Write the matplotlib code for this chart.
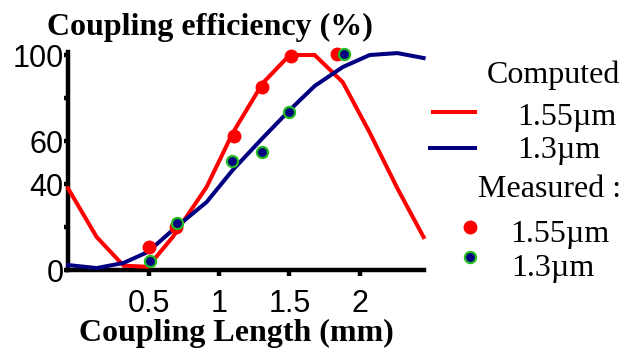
import matplotlib
matplotlib.use("Agg")
import matplotlib.pyplot as plt
from matplotlib.lines import Line2D

# ---- data ----
x_computed = [-0.08, 0.125, 0.317, 0.49, 0.667, 0.909, 1.095, 1.309, 1.502, 1.68, 1.88, 2.072, 2.27, 2.457]
red_computed = [38, 15.3, 2.0, 1.5, 15.3, 38.6, 63.7, 86.9, 100, 100, 87.4, 64, 38, 15.3]
blue_computed = [2.3, 0.9, 3.3, 8.4, 18.6, 31.6, 46.5, 61.4, 74.4, 85.6, 94.4, 100, 100.9, 98.6]

x_meas_red = [0.496, 0.688, 1.102, 1.302, 1.508, 1.836]
y_meas_red = [10.7, 20, 62.3, 85.1, 99.5, 100.5]
x_meas_blue = [0.503, 0.695, 1.088, 1.302, 1.495, 1.888]
y_meas_blue = [4.2, 21.9, 50.7, 54.9, 73.5, 100.5]

xticks = [0.5, 1, 1.5, 2]
xtick_labels = ["0.5", "1", "1.5", "2"]
yticks = [0, 20, 40, 60, 80, 100]
ytick_labels = ["0", "", "40", "60", "", "100"]

RED = "#ff0000"
BLUE = "#000080"
GREEN = "#22bb22"

W, H = 634, 352
fig = plt.figure(figsize=(W / 100, H / 100), dpi=100)
fig.patch.set_facecolor("white")

def fx(px):
    return px / W

def fy(py):
    return 1 - py / H

ax_left, ax_right, ax_top, ax_bot = 68, 424, 51.8, 270
ax = fig.add_axes([fx(ax_left), fy(ax_bot), fx(ax_right) - fx(ax_left), fy(ax_top) - fy(ax_bot)])
ax.set_xlim(-0.08, 2.46)
ax.set_ylim(0, 101.5)

ax.plot(x_computed, red_computed, color=RED, lw=2.9, solid_joinstyle="miter", clip_on=False, zorder=3)
ax.plot(x_computed, blue_computed, color=BLUE, lw=2.9, clip_on=False, zorder=3)
ax.plot(x_meas_red, y_meas_red, "o", color=RED, ms=9, mec=RED, clip_on=False, zorder=4)
ax.plot(x_meas_blue, y_meas_blue, "o", color=BLUE, ms=8, mec=GREEN, mew=1.6, clip_on=False, zorder=5)

for s in ["top", "right"]:
    ax.spines[s].set_visible(False)
for s in ["left", "bottom"]:
    ax.spines[s].set_linewidth(3.2)
    ax.spines[s].set_color("black")

sans = "Liberation Sans"
serif = "Liberation Serif"

ax.set_xticks(xticks)
ax.set_xticklabels(xtick_labels, fontfamily=sans, fontsize=22)
ax.set_yticks(yticks)
ax.set_yticklabels(ytick_labels, fontfamily=sans, fontsize=22)
ax.tick_params(axis="x", direction="out", length=4, width=3.2, pad=10)
ax.tick_params(axis="y", direction="out", length=3, width=3.2, pad=0)

ax.set_xlabel("Coupling Length (mm)", fontfamily=serif, fontweight="bold", fontsize=23)
ax.xaxis.set_label_coords((236 - ax_left) / (ax_right - ax_left),
                          -(319 - ax_bot) / (ax_bot - ax_top))

fig.text(fx(210), fy(35), "Coupling efficiency (%)", fontfamily=serif, fontweight="bold",
         fontsize=23, ha="center", va="baseline")

# ---- legend ----
fs = 23
fig.text(fx(487), fy(83), "Computed", fontfamily=serif, fontsize=fs, ha="left", va="baseline")
fig.add_artist(Line2D([fx(433), fx(475)], [fy(112), fy(112)], color=RED, lw=2.9))
fig.text(fx(517), fy(125), "1.55µm", fontfamily=serif, fontsize=fs, ha="left", va="baseline")
fig.add_artist(Line2D([fx(430), fx(475)], [fy(148), fy(148)], color=BLUE, lw=2.9))
fig.text(fx(517), fy(158), "1.3µm", fontfamily=serif, fontsize=fs, ha="left", va="baseline")
fig.text(fx(478), fy(197), "Measured :", fontfamily=serif, fontsize=fs, ha="left", va="baseline")
fig.add_artist(Line2D([fx(470)], [fy(227)], marker="o", color=RED, ms=9, mec=RED, ls="none"))
fig.text(fx(510), fy(242), "1.55µm", fontfamily=serif, fontsize=fs, ha="left", va="baseline")
fig.add_artist(Line2D([fx(470)], [fy(257)], marker="o", color=BLUE, ms=8, mec=GREEN, mew=1.6, ls="none"))
fig.text(fx(511), fy(276), "1.3µm", fontfamily=serif, fontsize=fs, ha="left", va="baseline")

fig.savefig("out.png", dpi=100, facecolor="white")
